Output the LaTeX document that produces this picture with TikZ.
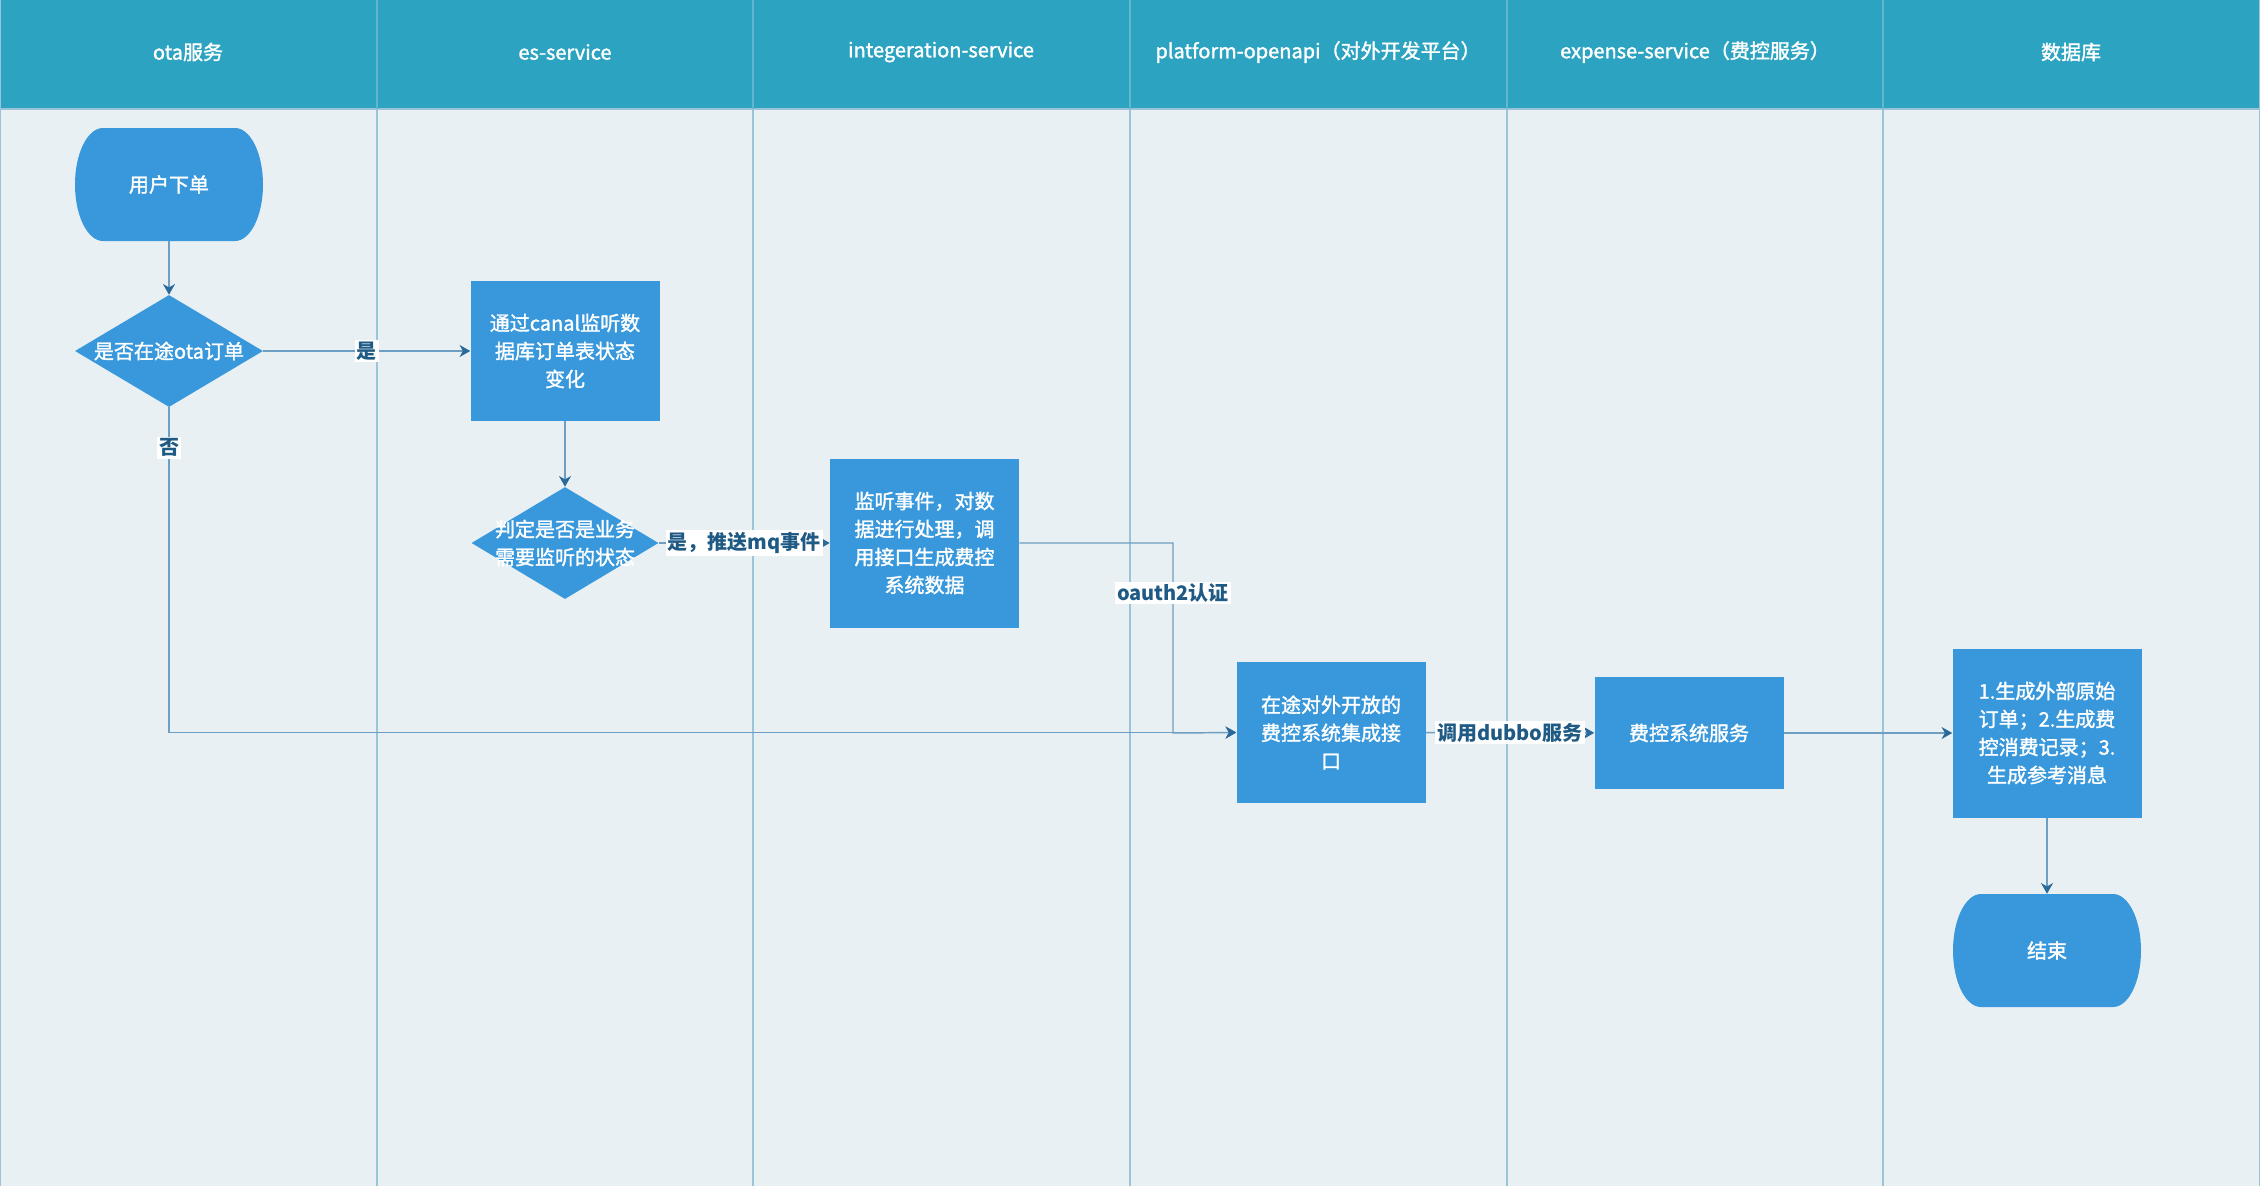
\documentclass[tikz,border=0pt]{standalone}
\usepackage{fontspec}
\setmainfont{Noto Sans CJK SC}
\newfontfamily\medfont[FakeBold=1.6]{Noto Sans CJK SC}
\usetikzlibrary{shapes.geometric,arrows.meta,calc}
\definecolor{hdr}{HTML}{2CA3C0}
\definecolor{bodybg}{HTML}{E8F0F4}
\definecolor{nodef}{HTML}{3898DB}
\definecolor{laneln}{HTML}{9CC4D8}
\definecolor{hdrln}{HTML}{62B6CD}
\definecolor{edgec}{HTML}{6E9EC2}
\definecolor{tipc}{HTML}{2A6A9A}
\definecolor{lblc}{HTML}{1E5A84}
\begin{document}
\begin{tikzpicture}[x=0.75pt,y=-0.75pt,
  txtfont/.style={font=\medfont\fontsize{15}{21}\selectfont},
  box/.style={rectangle, fill=nodef, draw=none, minimum width=189*0.75pt,
    text=white, align=center, inner sep=0pt, txtfont},
  dia/.style={diamond, fill=nodef, draw=none, minimum width=188*0.75pt,
    minimum height=112*0.75pt, inner sep=0pt},
  dtext/.style={text=white, align=center, inner sep=0pt, txtfont},
  term/.style={rectangle, fill=bodybg, draw=none, minimum width=188*0.75pt,
    minimum height=113*0.75pt, inner sep=0pt, text=white, txtfont,
    path picture={\fill[nodef] ([xshift=21pt]path picture bounding box.north west)
      -- ([xshift=-21pt]path picture bounding box.north east)
      arc[start angle=90,end angle=-90,x radius=21pt,y radius=42.375pt]
      -- ([xshift=21pt]path picture bounding box.south west)
      arc[start angle=270,end angle=90,x radius=21pt,y radius=42.375pt] -- cycle;}},
  hdrtext/.style={text=white, txtfont, inner sep=0pt},
  edge/.style={draw=edgec, line width=1.1pt, -{Stealth[length=8pt,width=9pt,inset=2.5pt,color=tipc]}},
  lbl/.style={fill=white, text=lblc, font=\fontsize{15}{21}\selectfont\bfseries, inner sep=1.5pt}
]
\useasboundingbox (0,0) rectangle (2260,1186);
% background
\fill[hdr] (0,0) rectangle (2260,109);
\fill[bodybg] (0,109) rectangle (2260,1186);
\draw[laneln, line width=1pt] (0,109) -- (2260,109);
\foreach \lx/\lw in {377/0.9,753/0.9,1130/0.9,1507/0.9,1883/1.6}{
  \draw[hdrln, line width=\lw pt] (\lx,0) -- (\lx,109);
  \draw[laneln, line width=\lw pt] (\lx,109) -- (\lx,1186);
}
\draw[laneln, line width=1.2pt] (0.5,0) -- (0.5,1186);
\draw[laneln, line width=1.2pt] (2259.5,0) -- (2259.5,1186);
% headers
\node[hdrtext] (h1) at (188,52) {ota服务};
\node[hdrtext] (h2) at (565,52) {es-service};
\node[hdrtext] (h3) at (941,52) {integeration-service};
\node[hdrtext] (h4) at (1318,52) {platform-openapi（对外开发平台）};
\node[hdrtext] (h5) at (1695,52) {expense-service（费控服务）};
\node[hdrtext] (h6) at (2071,52) {数据库};
% nodes
\node[term] (start) at (169,184.5) {用户下单};
\node[dia] (d1) at (169,351) {};
\node[dtext] (d1t) at (d1) {是否在途ota订单};
\node[box, minimum height=140*0.75pt] (canal) at (565,351) {通过canal监听数\\据库订单表状态\\变化};
\node[dia, minimum width=187*0.75pt] (d2) at (565,543) {};
\node[dtext] (d2t) at (d2) {判定是否是业务\\需要监听的状态};
\node[box, minimum height=169*0.75pt] (jt) at (924.5,543) {监听事件，对数\\据进行处理，调\\用接口生成费控\\系统数据};
\node[box, minimum height=141*0.75pt] (zt) at (1331,732.5) {在途对外开放的\\费控系统集成接\\口};
\node[box, minimum height=112*0.75pt] (fk) at (1689,733) {费控系统服务};
\node[box, minimum height=169*0.75pt] (db) at (2047,733) {1.生成外部原始\\订单；2.生成费\\控消费记录；3.\\生成参考消息};
\node[term] (end) at (2047,950.5) {结束};
\coordinate (bend) at (1173,733);
% edges
\draw[edge] (start) -- (d1);
\draw[edge] (d1) -- node[lbl] (l1) {是} (canal);
\draw[edge] (d1.south) |- node[lbl, pos=0.062] (l2) {否} (zt.west);
\draw[edge] (canal) -- (d2);
\draw[edge] (d2) -- node[lbl] (l3) {是，推送mq事件} (jt);
\draw[edge] (jt.east) -| (bend) -- (zt.west);
\node[lbl] (l4) at (1173,593) {oauth2认证};
\draw[edge] (zt) -- node[lbl] (l5) {调用dubbo服务} (fk);
\draw[edge] (fk) -- (db);
\draw[edge] (db) -- (end);
\end{tikzpicture}
\end{document}
